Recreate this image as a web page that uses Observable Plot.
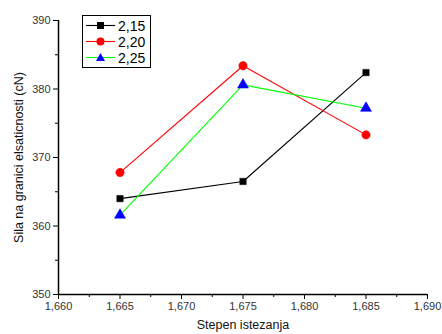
<!DOCTYPE html>
<html><head><meta charset="utf-8">
<script src="https://cdn.jsdelivr.net/npm/d3@7"></script>
<script src="https://cdn.jsdelivr.net/npm/@observablehq/plot@0.6"></script>
<style>
body{margin:0;background:#fff;font-family:"Liberation Sans",Arial,sans-serif;}
#wrap{position:relative;width:442px;height:334px;}
#legend{position:absolute;left:82px;top:15px;width:67px;height:51px;border:1px solid #000;background:#fff;font-size:14px;}
.row{position:absolute;left:0;height:16px;}
.row svg{position:absolute;left:3px;top:0;}
.row span{position:absolute;left:35px;top:0;line-height:16px;}
</style></head>
<body><div id="wrap"></div>
<script>
const stretch = [1.665, 1.675, 1.685];
const seriesNames = ["2,15", "2,20", "2,25"];
const s215 = [364.0, 366.5, 382.4];
const s220 = [367.8, 383.4, 373.3];
const s225 = [361.6, 380.6, 377.2];
const xTicks = [1.660, 1.665, 1.670, 1.675, 1.680, 1.685, 1.690];
const xMinor = [1.6625, 1.6675, 1.6725, 1.6775, 1.6825, 1.6875];
const yTicks = [350, 360, 370, 380, 390];
const yMinor = [355, 365, 375, 385];
const lineColors = ["#000000", "#ff0000", "#00ff00"];
const markColors = ["#000000", "#ff0000", "#0000ff"];
const symbols = ["square", "circle", "triangle"];
const markSizes = [3.6, 4.2, 4.1];

const allSeries = [s215, s220, s225];
const data = [];
allSeries.forEach((vals, i) => vals.forEach((v, j) => data.push({x: stretch[j], y: v, s: i})));
const fmt = d => d3.format(".3f")(d).replace(".", ",");

const marks = [];
allSeries.forEach((vals, i) => {
  const d = data.filter(p => p.s === i);
  marks.push(Plot.line(d, {x: "x", y: "y", stroke: lineColors[i], strokeWidth: 1.1}));
});
allSeries.forEach((vals, i) => {
  const d = data.filter(p => p.s === i);
  marks.push(Plot.dot(d, {x: "x", y: "y", fill: markColors[i], stroke: markColors[i], strokeWidth: 0.5, symbol: () => symbols[i], r: markSizes[i]}));
});

const chart = Plot.plot({
  width: 442, height: 334,
  marginLeft: 58, marginRight: 15, marginTop: 20, marginBottom: 40,
  style: {fontFamily: "Liberation Sans, Arial, sans-serif", fontSize: "11px", color: "#333"},
  x: {domain: [1.660, 1.690]},
  y: {domain: [350, 390]},
  marks: [
    Plot.axisX({ticks: xTicks, tickFormat: fmt, tickSize: 5, tickPadding: 3, label: null, fontSize: 11, stroke: "#000"}),
    Plot.axisX({ticks: xMinor, tickSize: 3, text: null, label: null, stroke: "#000"}),
    Plot.axisY({ticks: yTicks, tickSize: 5, tickPadding: 3, label: null, fontSize: 11, stroke: "#000"}),
    Plot.axisY({ticks: yMinor, tickSize: 3, text: null, label: null, stroke: "#000"}),
    Plot.ruleY([350], {stroke: "#000", strokeWidth: 1.5}),
    Plot.ruleX([1.660], {stroke: "#000", strokeWidth: 1.5}),
    Plot.text(["Stepen istezanja"], {frameAnchor: "bottom", dy: 34, fontSize: 12.5, fill: "#111"}),
    Plot.text(["Sila na granici elsaticnosti (cN)"], {frameAnchor: "left", textAnchor: "middle", dx: -40, rotate: -90, fontSize: 12.5, fill: "#111"}),
    ...marks
  ]
});
const wrap = document.getElementById("wrap");
wrap.appendChild(chart);

const legend = document.createElement("div");
legend.id = "legend";
seriesNames.forEach((name, i) => {
  const row = document.createElement("div");
  row.className = "row";
  row.style.top = (2 + i * 16) + "px";
  const sym = symbols[i] === "square" ? `<rect x="11" y="4" width="7" height="7" fill="${markColors[i]}"/>`
    : symbols[i] === "circle" ? `<circle cx="14.5" cy="7.5" r="4" fill="${markColors[i]}"/>`
    : `<path d="M14.5,3 L19,11 L10,11 Z" fill="${markColors[i]}"/>`;
  row.innerHTML = `<svg width="32" height="16"><line x1="0" x2="29" y1="7.5" y2="7.5" stroke="${lineColors[i]}" stroke-width="1.1"/>${sym}</svg><span>${name}</span>`;
  legend.appendChild(row);
});
wrap.appendChild(legend);
</script></body></html>
